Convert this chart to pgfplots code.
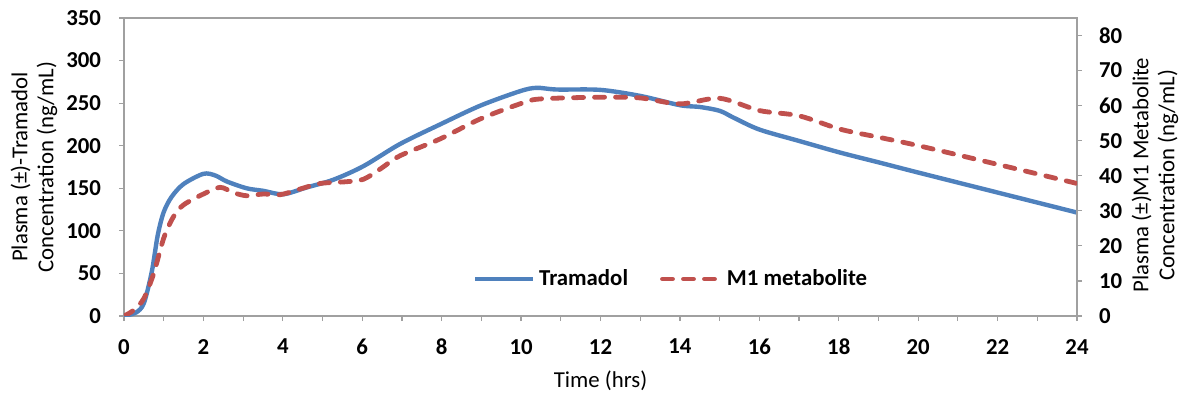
\documentclass[border=0pt]{standalone}
\usepackage{fontspec}
\setmainfont{Carlito}
\usepackage{pgfplots}
\pgfplotsset{compat=1.18}
\definecolor{tblue}{RGB}{79,129,189}
\definecolor{mred}{RGB}{192,80,77}
\definecolor{axgray}{RGB}{160,160,160}
\begin{document}
\begin{tikzpicture}
\pgfplotsset{
  every axis/.append style={
    scale only axis, width=476.5pt, height=149pt,
    xmin=0, xmax=24,
    /pgf/number format/assume math mode=true,
    ticklabel style={font=\bfseries\fontsize{11.4}{13}\selectfont},
    label style={font=\fontsize{11.4}{13}\selectfont},
    tick align=outside, major tick length=2.5pt, minor tick length=2.5pt,
    tick style={axgray, line width=0.6pt},
    axis line style={axgray, line width=0.6pt},
  },
  m1style/.style={mred, line width=2.4pt, line cap=round, dash pattern=on 5pt off 5.5pt},
}
\begin{axis}[
  name=main,
  ymin=0, ymax=350,
  ytick={0,50,...,350},
  xtick={0,2,...,24}, minor xtick={1,3,...,23},
  xtick pos=bottom, ytick pos=left,
  yticklabel shift=5.5pt, xticklabel shift=5.5pt,
  xlabel={Time (hrs)},
  xlabel style={at={(axis description cs:0.5,0)}, anchor=center, yshift=-32.5pt},
  ylabel={Plasma (±)-Tramadol\\Concentration (ng/mL)},
  ylabel style={align=center, at={(axis description cs:0,0.5)}, anchor=center, yshift=45pt},
  legend style={at={(0.575,0.124)}, anchor=center, draw=none, fill=none,
    font=\bfseries\fontsize{11.4}{13}\selectfont, column sep=0pt,
    /tikz/every even column/.append style={column sep=14pt}},
  legend columns=2,
  legend image code/.code={\draw[#1] (0pt,0pt) -- (29pt,0pt);},
]
\addplot[tblue, line width=2.2pt, smooth, tension=0.5] coordinates {
(0,0) (0.3,4) (0.5,15) (0.7,52) (0.85,95) (1.0,122) (1.2,140) (1.5,155)
(2.0,167) (2.3,165) (2.59,158) (3.09,150) (3.51,147) (4.01,143)
(4.6,151) (5.27,160) (6.03,176) (6.95,202) (7.96,225) (8.97,247) (9.97,264)
(10.39,268) (10.9,266) (11.99,265.6) (13.0,258.5) (14.0,247.6) (14.5,245.5)
(15.0,241) (15.35,233) (16.0,219) (17.0,205.6) (18.03,192) (19,180.5)
(20,168.5) (22,145) (24,121.5)
};
\addlegendentry{Tramadol}
\addlegendimage{m1style}
\addlegendentry{M1 metabolite}
\end{axis}
\begin{axis}[
  ymin=0, ymax=85,
  ytick={0,10,...,80},
  hide x axis,
  axis y line*=right,
  yticklabel shift=5pt,
  ylabel={Plasma (±)M1 Metabolite\\Concentration (ng/mL)},
  ylabel style={align=center, at={(axis description cs:1,0.5)}, anchor=center, yshift=-39pt, xshift=-4pt},
]
\addplot[m1style, smooth, tension=0.5] coordinates {
(0,0) (0.25,1.7) (0.5,5) (0.75,12.2) (1.0,22.2) (1.25,28.4) (1.5,31.7)
(2.0,34.8) (2.42,36.7) (2.75,35.2) (3.09,34.3) (3.51,34.8) (3.93,34.6)
(4.43,36.2) (4.94,37.8) (5.6,38.3) (6.03,39) (6.45,41.9) (6.95,45.7)
(7.96,50.5) (8.97,56.2) (9.97,60.5) (10.47,61.9) (11.99,62.4) (13.0,62.2)
(14.0,60.5) (15.0,62.1) (16.0,58.6) (17.0,57.1) (18.03,53.3) (19,51)
(20.0,48.6) (21.98,43.3) (24.0,37.8)
};
\end{axis}
\pgfresetboundingbox
\path ([shift={(-62pt,-40pt)}]main.south west) rectangle ([shift={(53pt,9pt)}]main.north east);
\end{tikzpicture}
\end{document}
